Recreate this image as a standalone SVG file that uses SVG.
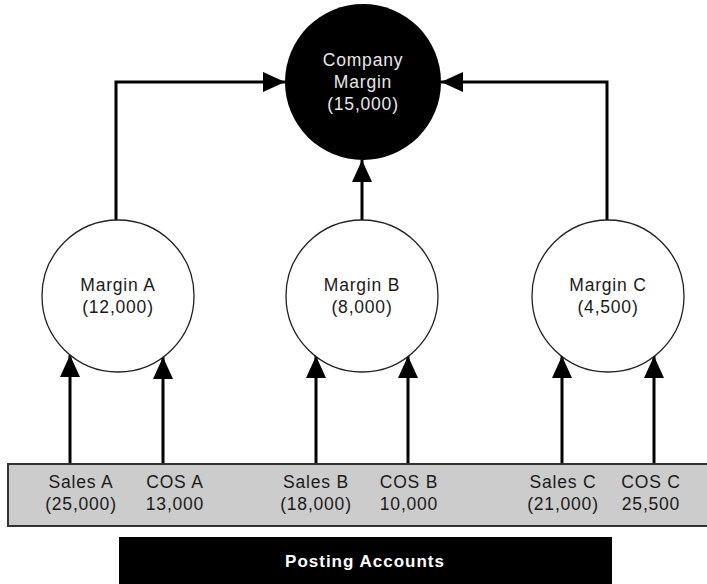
<svg xmlns="http://www.w3.org/2000/svg" width="707" height="584" viewBox="0 0 707 584">
  <style>
    .lbl { font-family: "Liberation Sans", Arial, sans-serif; font-size: 17.5px; letter-spacing: 0.8px; text-anchor: middle; fill: #1a1a1a; }
    .inv { fill: #e8e8e8; }
    .bold { font-weight: bold; font-size: 17px; letter-spacing: 1px; fill: #ffffff; }
    .conn { fill: none; stroke: #000; stroke-width: 3; }
    .ring { fill: #fff; stroke: #222; stroke-width: 1.3; }
  </style>
  <defs>
    <marker id="head" markerUnits="userSpaceOnUse" markerWidth="22" markerHeight="20" refX="22" refY="10" orient="auto">
      <path d="M0,0 L22,10 L0,20 z" fill="#000"/>
    </marker>
  </defs>
  <rect width="707" height="584" fill="#fff"/>

  <!-- connectors -->
  <g id="connectors">
    <path class="conn" d="M116,220 V82 H285" marker-end="url(#head)"/>
    <path class="conn" d="M607,220 V82 H441" marker-end="url(#head)"/>
    <path class="conn" d="M362,220 V160" marker-end="url(#head)"/>
    <path class="conn" d="M70,464 V355" marker-end="url(#head)"/>
    <path class="conn" d="M163,464 V357" marker-end="url(#head)"/>
    <path class="conn" d="M316,464 V356" marker-end="url(#head)"/>
    <path class="conn" d="M408,464 V356" marker-end="url(#head)"/>
    <path class="conn" d="M562,464 V356" marker-end="url(#head)"/>
    <path class="conn" d="M654,464 V356" marker-end="url(#head)"/>
  </g>

  <!-- top-level total -->
  <g id="company-margin">
    <circle cx="363" cy="82" r="78" fill="#000"/>
    <text class="lbl inv" x="363" y="66">Company</text>
    <text class="lbl inv" x="363" y="88">Margin</text>
    <text class="lbl inv" x="363" y="110">(15,000)</text>
  </g>

  <!-- per-product margins -->
  <g id="margin-a">
    <circle class="ring" cx="118" cy="296" r="76"/>
    <text class="lbl" x="118" y="291">Margin A</text>
    <text class="lbl" x="118" y="313">(12,000)</text>
  </g>
  <g id="margin-b">
    <circle class="ring" cx="362" cy="296" r="76"/>
    <text class="lbl" x="362" y="291">Margin B</text>
    <text class="lbl" x="362" y="313">(8,000)</text>
  </g>
  <g id="margin-c">
    <circle class="ring" cx="608" cy="296" r="76"/>
    <text class="lbl" x="608" y="291">Margin C</text>
    <text class="lbl" x="608" y="313">(4,500)</text>
  </g>

  <!-- posting accounts strip -->
  <g id="accounts">
    <rect x="8" y="464" width="702" height="62" fill="#cccccc" stroke="#333" stroke-width="2"/>
    <text class="lbl" x="81" y="488">Sales A</text>
    <text class="lbl" x="81" y="510">(25,000)</text>
    <text class="lbl" x="175" y="488">COS A</text>
    <text class="lbl" x="175" y="510">13,000</text>
    <text class="lbl" x="316" y="488">Sales B</text>
    <text class="lbl" x="316" y="510">(18,000)</text>
    <text class="lbl" x="409" y="488">COS B</text>
    <text class="lbl" x="409" y="510">10,000</text>
    <text class="lbl" x="563" y="488">Sales C</text>
    <text class="lbl" x="563" y="510">(21,000)</text>
    <text class="lbl" x="651" y="488">COS C</text>
    <text class="lbl" x="651" y="510">25,500</text>
  </g>

  <g id="posting-accounts">
    <rect x="119" y="537" width="493" height="47" fill="#000"/>
    <text class="lbl bold" x="365" y="567">Posting Accounts</text>
  </g>
</svg>
